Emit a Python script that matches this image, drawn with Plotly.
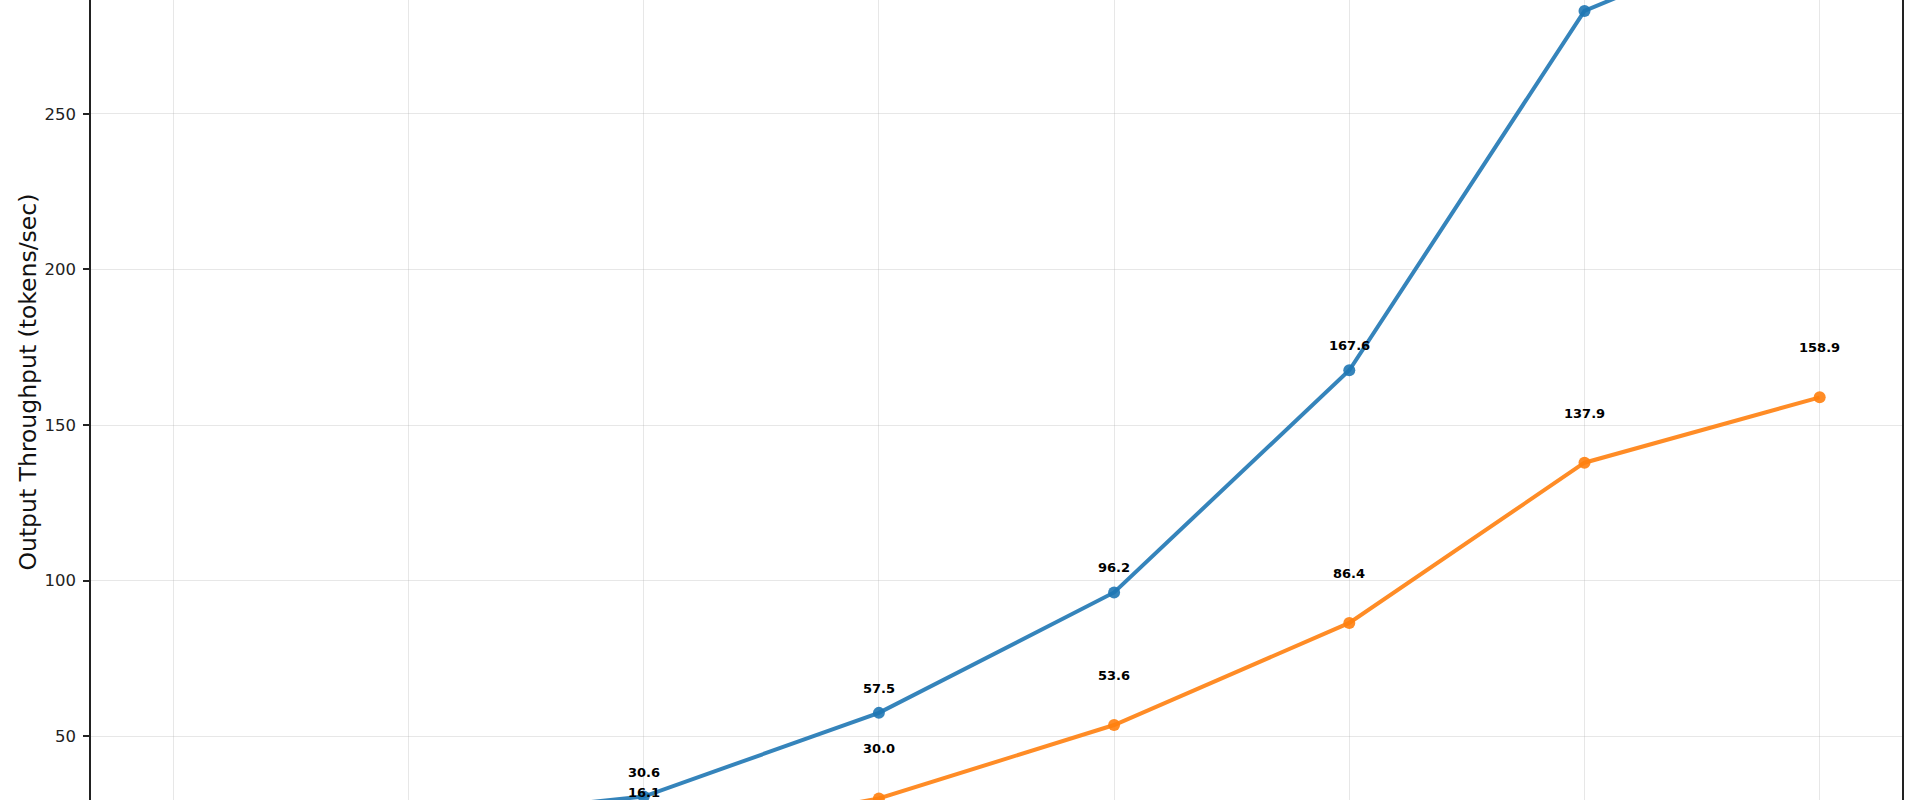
import plotly.graph_objects as go

# Data (x positions are category indices; labels below the visible area)
x_index = [0, 1, 2, 3, 4, 5, 6, 7]
series_a = [12.0, 22.8, 30.6, 57.5, 96.2, 167.6, 283.1, 314.5]   # blue
series_b = [4.0, 8.5, 16.1, 30.0, 53.6, 86.4, 137.9, 158.9]      # orange

# value labels that are visible in the reference
label_a_idx = [2, 3, 4, 5]
label_b_idx = [2, 3, 4, 5, 6, 7]
label_a_offset = 7.9     # data units above the point (label centre)
label_b_offset = 15.9

y_ticks = [50, 100, 150, 200, 250]

BLUE = "rgba(31,119,180,0.9)"
ORANGE = "rgba(255,127,14,0.9)"

fig = go.Figure()
fig.add_trace(go.Scatter(
    x=x_index, y=series_a, mode="lines+markers",
    line=dict(color=BLUE, width=4),
    marker=dict(color=BLUE, size=12, line=dict(width=0)),
    showlegend=False, cliponaxis=True))
fig.add_trace(go.Scatter(
    x=x_index, y=series_b, mode="lines+markers",
    line=dict(color=ORANGE, width=4),
    marker=dict(color=ORANGE, size=12, line=dict(width=0)),
    showlegend=False, cliponaxis=True))

lab_font = dict(family="DejaVu Sans", size=13, color="#000")
annotations = []
for i in label_a_idx:
    annotations.append(dict(x=x_index[i], y=series_a[i] + label_a_offset, xref="x", yref="y",
                            text=f"<b>{series_a[i]:.1f}</b>", showarrow=False,
                            yanchor="middle", xanchor="center", font=lab_font))
for i in label_b_idx:
    annotations.append(dict(x=x_index[i], y=series_b[i] + label_b_offset, xref="x", yref="y",
                            text=f"<b>{series_b[i]:.1f}</b>", showarrow=False,
                            yanchor="middle", xanchor="center", font=lab_font))
annotations.append(dict(x=(27.5 - 91) / 1811, y=(800 - 382) / 800, xref="paper", yref="paper",
                        text="Output Throughput (tokens/sec)", textangle=-90,
                        showarrow=False, xanchor="center", yanchor="middle",
                        font=dict(family="DejaVu Sans", size=23.5, color="#111")))

fig.update_layout(
    width=1920, height=800,
    margin=dict(l=91, r=18, t=0, b=0, autoexpand=False),
    paper_bgcolor="white", plot_bgcolor="white",
    annotations=annotations,
    font=dict(family="DejaVu Sans", color="#222"),
)
fig.update_xaxes(
    range=[-0.35, 7.35], tickvals=x_index, showticklabels=False,
    showgrid=True, gridcolor="rgba(176,176,176,0.3)", gridwidth=1,
    zeroline=False, showline=False, ticks="", automargin=False,
)
fig.update_yaxes(
    range=[29.5, 286.6], tickvals=y_ticks,
    showgrid=True, gridcolor="rgba(176,176,176,0.3)", gridwidth=1,
    zeroline=False, showline=True, linecolor="#222", linewidth=1.6, mirror=True,
    ticks="outside", ticklen=6, tickwidth=1.5, tickcolor="#222",
    tickfont=dict(family="DejaVu Sans", size=16.5, color="#222"),
    ticklabelstandoff=4, automargin=False,
)

fig.write_html(
    "out.html",
    config={"displayModeBar": False},
    post_script="document.body.style.margin='0';document.documentElement.style.overflow='hidden';",
)
